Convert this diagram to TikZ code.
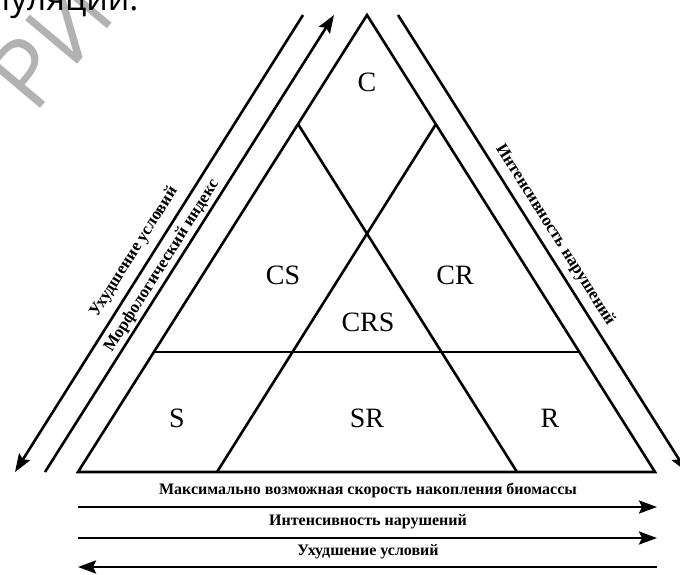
\documentclass[tikz,border=0pt]{standalone}
\usepackage{fontspec}
\setmainfont{Liberation Serif}
\newfontfamily\wmfont{Open Sans}
\usetikzlibrary{arrows.meta}

\tikzset{
  thick line/.style={line width=2.6pt},
  axis arrow/.style={thick line, -{Stealth[length=18pt,width=13pt,inset=3pt]}},
  zone/.style={font=\fontsize{28}{30}\selectfont},
  axis label/.style={font=\bfseries\fontsize{16}{18}\selectfont, inner sep=1pt},
  side label/.style={font=\bfseries\fontsize{17}{19}\selectfont, inner sep=1pt},
}

\begin{document}
\begin{tikzpicture}[x=1pt,y=-1pt]
\useasboundingbox (0,0) rectangle (680,574);
\clip (0,0) rectangle (680,574);

% page remains at the top
\node [text=black!30!white, font=\wmfont\fontsize{95}{97}\selectfont, rotate=50] (wm) at (50,44) {РИ};
\node [font=\wmfont\fontsize{34}{36}\selectfont, anchor=base east] (head) at (142,10) {популяции.};

% triangle
\coordinate (v1) at (367,15);
\coordinate (v2) at (78,472);
\coordinate (v3) at (655,472);
\draw [thick line, line join=miter] (v1) -- (v2) -- (v3) -- cycle;

\coordinate (l1) at (298,124);
\coordinate (r1) at (436,124);
\coordinate (b1) at (217,472);
\coordinate (b2) at (517,472);
\coordinate (l2) at (154,352);
\coordinate (r2) at (579,352);
\draw [thick line] (l1) -- (b2);
\draw [thick line] (r1) -- (b1);
\draw [thick line] (l2) -- (r2);

\node [zone] (c) at (367,82) {C};
\node [zone] (cs) at (283,275) {CS};
\node [zone] (cr) at (455,275) {CR};
\node [zone] (crs) at (368,322) {CRS};
\node [zone] (s) at (177,418) {S};
\node [zone] (sr) at (367,418) {SR};
\node [zone] (r) at (550,418) {R};

% side arrows
\coordinate (a1) at (303,15);
\coordinate (a2) at (15,472);
\coordinate (m1) at (45,472);
\coordinate (m2) at (334,15);
\coordinate (n1) at (398,15);
\coordinate (n2) at (687,472);
\draw [axis arrow] (a1) -- (a2);
\draw [axis arrow] (m1) -- (m2);
\draw [axis arrow] (n1) -- (n2);

\node [side label, rotate=57.7] (u1) at (134,252) {Ухудшение условий};
\node [side label, rotate=57.7] (mi) at (162,266) {Морфологический индекс};
\node [side label, rotate=-57.7] (in1) at (555,235) {Интенсивность нарушений};

% bottom arrows
\coordinate (p1) at (78,507);
\coordinate (p2) at (657,507);
\coordinate (q1) at (78,538);
\coordinate (q2) at (657,538);
\coordinate (w1) at (657,567);
\coordinate (w2) at (78,567);
\draw [axis arrow] (p1) -- (p2);
\draw [axis arrow] (q1) -- (q2);
\draw [axis arrow] (w1) -- (w2);

\node [axis label] (mx) at (368,490) {Максимально возможная скорость накопления биомассы};
\node [axis label] (in2) at (368,522) {Интенсивность нарушений};
\node [axis label] (u2) at (368,552) {Ухудшение условий};
\end{tikzpicture}
\end{document}
